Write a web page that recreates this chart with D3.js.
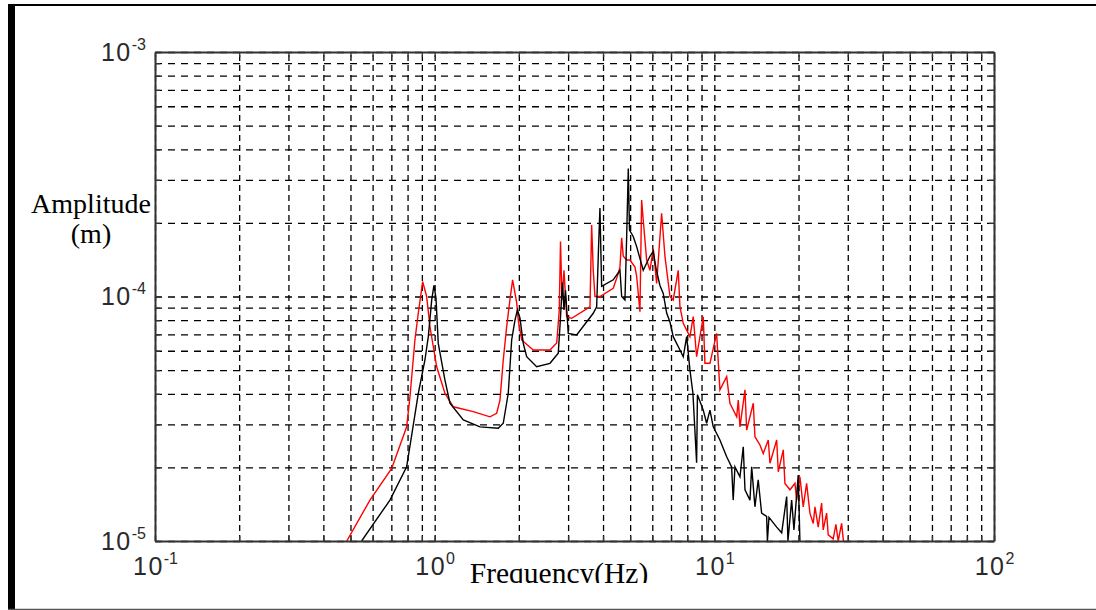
<!DOCTYPE html>
<html lang="en">
<head>
<meta charset="UTF-8">
<title>Amplitude spectrum</title>
<style>
  body { margin: 0; background: #fff; }
  svg { display: block; }
  .ticklab { font-family: "Liberation Sans", Arial, sans-serif; fill: #2a2a2a; }
  .axlab { font-family: "Liberation Serif", "Times New Roman", serif; fill: #000; }
</style>
</head>
<body>
<div id="wrapper"></div>
<script src="https://d3js.org/d3.v7.min.js"></script>
<script>
{
  // tick labels are powers of ten
  const xTickExps = [-1, 0, 1, 2];
  const yTickExps = [-5, -4, -3];

  // red curve (Hz, m)
  const redFreq = [0.485, 0.587, 0.702, 0.794, 0.816, 0.850, 0.874, 0.906, 0.936, 0.962,
    1.017, 1.088, 1.166, 1.374, 1.577, 1.666, 1.712, 1.759, 1.809, 1.858,
    1.900, 1.965, 1.990, 2.047, 2.252, 2.584, 2.731, 2.790, 2.818, 2.853,
    2.900, 2.965, 3.088, 3.592, 3.642, 3.690, 3.742, 3.899, 4.35, 4.534,
    4.598, 4.663, 4.725, 4.859, 4.993, 5.202, 5.275, 5.420, 5.496, 5.568,
    5.728, 5.886, 6.048, 6.219, 6.480, 6.659, 6.940, 7.129, 7.429, 7.534,
    7.742, 8.18, 8.405, 8.643, 9.128, 9.256, 9.645, 10.19, 10.47, 11.07,
    11.37, 12.02, 12.18, 12.35, 12.87, 13.05, 13.78, 13.97, 14.56, 14.96,
    15.59, 15.81, 16.71, 16.93, 17.64, 17.88, 18.64, 19.42, 19.70, 20.23,
    20.79, 21.38, 21.97, 22.58, 22.90, 23.52, 24.19, 24.51, 25.20, 25.54,
    26.61, 27.21, 27.73, 28.52, 28.95];
  const redAmp = [1.0e-5, 1.47e-5, 1.98e-5, 2.93e-5, 3.89e-5, 6.64e-5, 8.56e-5, 1.15e-4, 1.0e-4, 7.52e-5,
    5.16e-5, 4.02e-5, 3.54e-5, 3.38e-5, 3.22e-5, 3.33e-5, 3.77e-5, 5.50e-5, 7.52e-5, 9.68e-5,
    1.17e-4, 9.41e-5, 8.01e-5, 6.64e-5, 6.04e-5, 6.04e-5, 6.45e-5, 8.81e-5, 1.68e-4, 9.7e-5,
    1.28e-4, 8.27e-5, 8.14e-5, 9.08e-5, 1.96e-4, 1.28e-4, 1.0e-4, 1.0e-4, 1.08e-4, 1.24e-4,
    1.32e-4, 1.74e-4, 1.46e-4, 1.41e-4, 1.41e-4, 1.32e-4, 1.21e-4, 8.67e-5, 2.48e-4, 2.06e-4,
    1.41e-4, 1.28e-4, 1.57e-4, 1.13e-4, 2.19e-4, 1.46e-4, 1.0e-4, 9.68e-5, 1.28e-4, 9.08e-5,
    7.77e-5, 6.85e-5, 8.27e-5, 5.67e-5, 8.27e-5, 5.33e-5, 5.33e-5, 7.07e-5, 4.15e-5, 4.70e-5,
    3.66e-5, 3.22e-5, 3.77e-5, 2.93e-5, 4.15e-5, 2.84e-5, 3.66e-5, 2.67e-5, 2.47e-5, 2.28e-5,
    2.59e-5, 2.08e-5, 2.59e-5, 1.92e-5, 2.36e-5, 1.72e-5, 1.62e-5, 1.72e-5, 1.47e-5, 1.83e-5,
    1.38e-5, 1.72e-5, 1.30e-5, 1.18e-5, 1.38e-5, 1.14e-5, 1.43e-5, 1.11e-5, 1.30e-5, 1.06e-5,
    1.02e-5, 1.17e-5, 1.0e-5, 1.18e-5, 1.0e-5];

  // black curve (Hz, m)
  const blackFreq = [0.548, 0.692, 0.794, 0.874, 0.923, 0.949, 0.976, 0.994, 1.011, 1.030,
    1.088, 1.134, 1.266, 1.452, 1.688, 1.759, 1.833, 1.885, 1.937, 1.977,
    2.018, 2.074, 2.133, 2.316, 2.584, 2.766, 2.805, 2.864, 2.900, 2.936,
    3.004, 3.219, 3.690, 3.795, 3.852, 3.899, 3.954, 4.35, 4.598, 4.663,
    4.791, 4.859, 4.924, 4.973, 5.129, 5.275, 5.568, 5.886, 6.048, 6.183,
    6.389, 6.566, 6.753, 6.940, 7.129, 7.534, 7.742, 7.962, 8.18, 8.384,
    8.643, 8.701, 9.128, 9.386, 9.645, 9.911, 10.47, 11.07, 11.53, 11.68,
    11.85, 12.35, 12.69, 12.87, 13.41, 13.60, 13.97, 14.35, 14.76, 15.38,
    15.48, 15.68, 16.71, 17.41, 18.14, 18.33, 18.90, 19.26, 19.95, 20.23];
  const blackAmp = [1.0e-5, 1.47e-5, 2.01e-5, 4.02e-5, 5.50e-5, 6.85e-5, 9.68e-5, 1.11e-4, 9.86e-5, 6.43e-5,
    4.56e-5, 3.66e-5, 3.13e-5, 2.93e-5, 2.89e-5, 3.03e-5, 4.02e-5, 6.64e-5, 8.01e-5, 8.81e-5,
    8.17e-5, 6.43e-5, 5.67e-5, 5.16e-5, 5.33e-5, 5.86e-5, 7.52e-5, 1.14e-4, 8.81e-5, 1.06e-4,
    7.07e-5, 6.96e-5, 8.54e-5, 9.08e-5, 1.55e-4, 2.30e-4, 1.10e-4, 1.17e-4, 1.28e-4, 1.0e-4,
    9.68e-5, 1.76e-4, 3.34e-4, 1.87e-4, 1.76e-4, 1.60e-4, 1.28e-4, 1.46e-4, 1.53e-4, 1.31e-4,
    1.11e-4, 1.03e-4, 8.56e-5, 7.86e-5, 6.85e-5, 6.04e-5, 5.67e-5, 6.85e-5, 5.01e-5, 4.02e-5,
    2.09e-5, 3.96e-5, 3.43e-5, 3.03e-5, 3.43e-5, 2.93e-5, 2.59e-5, 2.21e-5, 2.01e-5, 1.47e-5,
    2.01e-5, 1.83e-5, 2.43e-5, 1.62e-5, 1.47e-5, 2.01e-5, 1.38e-5, 1.78e-5, 1.30e-5, 1.26e-5,
    1.0e-5, 1.25e-5, 1.14e-5, 1.08e-5, 1.52e-5, 1.0e-5, 1.47e-5, 1.11e-5, 1.86e-5, 1.0e-5];

  const width = 1096, height = 610;
  const margin = {top: 52, right: 102, bottom: 69, left: 155};
  const w = width - margin.left - margin.right;
  const h = height - margin.top - margin.bottom;

  const svg = d3.select('#wrapper').append('svg')
    .attr('width', width)
    .attr('height', height);

  // outer frame of the figure
  svg.append('rect').attr('x', 8).attr('y', 4).attr('width', 7).attr('height', 606).attr('fill', '#000');
  svg.append('line').attr('x1', 8).attr('x2', width).attr('y1', 5).attr('y2', 5)
    .attr('stroke', '#000').attr('stroke-width', 2);
  svg.append('line').attr('x1', 8).attr('x2', width).attr('y1', 609.5).attr('y2', 609.5)
    .attr('stroke', '#555').attr('stroke-width', 1.5);

  const g = svg.append('g').attr('transform', `translate(${margin.left},${margin.top})`);

  const x = d3.scaleLog().domain([0.1, 100]).range([0, w]);
  const y = d3.scaleLog().domain([1e-5, 1e-3]).range([h, 0]);

  // 1..9 in every decade
  const decadeTicks = (lo, hi) => {
    const out = [];
    for (let e = lo; e < hi; e++) {
      for (let k = 1; k <= 9; k++) out.push(k * Math.pow(10, e));
    }
    out.push(Math.pow(10, hi));
    return out;
  };
  const xMinor = decadeTicks(-1, 2);
  const yMinor = decadeTicks(-5, -3);

  // dashed grid
  const xGrid = g.append('g').attr('transform', `translate(0,${h})`)
    .call(d3.axisBottom(x).tickValues(xMinor).tickSize(-h).tickFormat(''));
  xGrid.select('.domain').remove();
  xGrid.selectAll('line').attr('stroke', '#000').attr('stroke-width', 1.3).attr('stroke-dasharray', '6,4');

  const yGrid = g.append('g')
    .call(d3.axisLeft(y).tickValues(yMinor).tickSize(-w).tickFormat(''));
  yGrid.select('.domain').remove();
  yGrid.selectAll('line').attr('stroke', '#000').attr('stroke-width', 1.3).attr('stroke-dasharray', '7,6');

  // curves
  g.append('clipPath').attr('id', 'plotclip')
    .append('rect').attr('width', w).attr('height', h);

  const line = d3.line()
    .x(d => x(d[0]))
    .y(d => y(d[1]));

  g.append('path')
    .datum(d3.zip(redFreq, redAmp))
    .attr('clip-path', 'url(#plotclip)')
    .attr('fill', 'none')
    .attr('stroke', '#ff0000')
    .attr('stroke-width', 1.4)
    .attr('d', line);

  g.append('path')
    .datum(d3.zip(blackFreq, blackAmp))
    .attr('clip-path', 'url(#plotclip)')
    .attr('fill', 'none')
    .attr('stroke', '#000')
    .attr('stroke-width', 1.4)
    .attr('d', line);

  // box with inward ticks on all sides
  const tickLen = 5;
  const sides = [
    [d3.axisBottom(x).tickValues(xMinor), `translate(0,${h})`],
    [d3.axisTop(x).tickValues(xMinor), 'translate(0,0)'],
    [d3.axisLeft(y).tickValues(yMinor), 'translate(0,0)'],
    [d3.axisRight(y).tickValues(yMinor), `translate(${w},0)`]
  ];
  sides.forEach(([ax, tr]) => {
    const s = g.append('g').attr('transform', tr)
      .call(ax.tickSize(-tickLen).tickSizeOuter(0).tickFormat(''));
    s.select('.domain').attr('stroke', '#333').attr('stroke-width', 2);
    s.selectAll('line').attr('stroke', '#333').attr('stroke-width', 1.3);
  });

  // tick labels 10^n
  const supLabel = (sel, exps) => {
    sel.each(function(d, i) {
      const t = d3.select(this).text(null).attr('class', 'ticklab');
      t.append('tspan').attr('font-size', 25).attr('letter-spacing', 1.5).text('10');
      t.append('tspan').attr('font-size', 16).attr('dy', -11).text(exps[i]);
    });
  };

  const xLab = g.append('g').attr('transform', `translate(0,${h})`)
    .call(d3.axisBottom(x).tickValues(xTickExps.map(e => Math.pow(10, e))).tickSize(0));
  xLab.select('.domain').remove();
  xLab.selectAll('text').attr('y', 34).attr('dy', null).attr('fill', null)
    .attr('text-anchor', 'middle')
    .call(supLabel, xTickExps);

  const yLab = g.append('g')
    .call(d3.axisLeft(y).tickValues(yTickExps.map(e => Math.pow(10, e))).tickSize(0));
  yLab.select('.domain').remove();
  yLab.selectAll('text').attr('x', -9).attr('dy', 8).attr('fill', null)
    .attr('text-anchor', 'end')
    .call(supLabel, yTickExps);

  // axis titles
  svg.append('text').attr('class', 'axlab')
    .attr('x', 91).attr('y', 213).attr('text-anchor', 'middle')
    .attr('font-size', 28).text('Amplitude');
  svg.append('text').attr('class', 'axlab')
    .attr('x', 91).attr('y', 243).attr('text-anchor', 'middle')
    .attr('font-size', 28).text('(m)');

  svg.append('clipPath').attr('id', 'xtitleclip')
    .append('rect').attr('x', 0).attr('y', 0).attr('width', width).attr('height', 583);
  svg.append('text').attr('class', 'axlab')
    .attr('clip-path', 'url(#xtitleclip)')
    .attr('x', 559).attr('y', 582.5).attr('text-anchor', 'middle')
    .attr('font-size', 29.5).text('Frequency(Hz)');
}
</script>
</body>
</html>
